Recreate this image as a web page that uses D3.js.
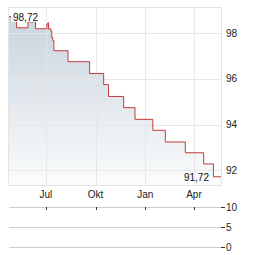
<!DOCTYPE html>
<html>
<head>
<meta charset="utf-8">
<script src="https://cdn.jsdelivr.net/npm/d3@7.9.0/dist/d3.min.js"></script>
<style>
  html, body { margin: 0; padding: 0; background: #fff; }
  svg { display: block; font-family: "Liberation Sans", Arial, sans-serif; }
</style>
</head>
<body>
<svg id="chart" width="264" height="255"></svg>
<script>
const dates = [
  "2024-04-23", "2024-04-27", "2024-05-01", "2024-05-06", "2024-05-08",
  "2024-05-27", "2024-05-29", "2024-06-09", "2024-06-12", "2024-07-01",
  "2024-07-03", "2024-07-05", "2024-07-06", "2024-07-10", "2024-07-12",
  "2024-07-14", "2024-07-16", "2024-08-11", "2024-09-20", "2024-10-16",
  "2024-10-25", "2024-11-22", "2024-12-13", "2025-01-15", "2025-02-07",
  "2025-03-16", "2025-04-19", "2025-05-07", "2025-05-21"
];
const prices = [
  98.72, 98.69, 98.58, 98.53, 98.23,
  98.25, 98.49, 98.53, 98.19, 98.19,
  98.40, 98.45, 98.19, 98.10, 97.80,
  97.67, 97.23, 96.75, 96.23, 95.75,
  95.23, 94.74, 94.23, 93.75, 93.24,
  92.77, 92.28, 91.72, 91.72
];
const monthTicks = ["2024-07-01", "2024-10-01", "2025-01-01", "2025-04-01"];
const monthLabels = ["Jul", "Okt", "Jan", "Apr"];
const priceTicks = [92, 94, 96, 98];
const volumeTicks = [0, 5, 10];

const parse = d3.utcParse("%Y-%m-%d");
const data = dates.map((d, i) => ({ date: parse(d), value: prices[i] }));

const svg = d3.select("#chart");
const pLeft = 8.5, pRight = 221, pTop = 7, pBottom = 185;

const x = d3.scaleUtc()
  .domain([parse("2024-04-23"), parse("2025-05-21")])
  .range([pLeft, pRight]);
const y = d3.scaleLinear().domain([91.36, 99.14]).range([pBottom, pTop]);
const yVol = d3.scaleLinear().domain([0, 10]).range([247, 207]);

// gradient for the area
const grad = svg.append("defs").append("linearGradient")
  .attr("id", "fill")
  .attr("gradientUnits", "userSpaceOnUse")
  .attr("x1", 0).attr("y1", pTop).attr("x2", 0).attr("y2", pBottom);
grad.append("stop").attr("offset", "0%").attr("stop-color", "#c6d2dc");
grad.append("stop").attr("offset", "100%").attr("stop-color", "#fbfcfc");

const area = d3.area()
  .curve(d3.curveStepAfter)
  .x(d => x(d.date))
  .y0(pBottom)
  .y1(d => y(d.value));
const line = d3.line()
  .curve(d3.curveStepAfter)
  .x(d => x(d.date))
  .y(d => y(d.value));

svg.append("path").datum(data).attr("d", area).attr("fill", "url(#fill)");

// grid (drawn over the fill, as in the original)
const grid = svg.append("g").attr("stroke", "#e4e6e8").attr("stroke-opacity", 0.9)
  .attr("shape-rendering", "crispEdges");
grid.selectAll(".v").data(monthTicks).enter().append("line")
  .attr("x1", d => Math.round(x(parse(d))) + 0.5)
  .attr("x2", d => Math.round(x(parse(d))) + 0.5)
  .attr("y1", pTop).attr("y2", pBottom);
grid.selectAll(".h").data(priceTicks).enter().append("line")
  .attr("x1", pLeft).attr("x2", pRight)
  .attr("y1", d => Math.round(y(d)) + 0.5)
  .attr("y2", d => Math.round(y(d)) + 0.5);

svg.append("path").datum(data).attr("d", line)
  .attr("fill", "none").attr("stroke", "#c43a3a").attr("stroke-width", 1);

// frame
svg.append("rect")
  .attr("x", 8.5).attr("y", 7.5)
  .attr("width", pRight - 8.5).attr("height", pBottom - 7.5)
  .attr("fill", "none").attr("stroke", "#e4e4e4").attr("shape-rendering", "crispEdges");

// price axis labels
svg.append("g").selectAll("text").data(priceTicks).enter().append("text")
  .attr("x", 226).attr("y", d => y(d)).attr("dy", "0.36em")
  .attr("font-size", 10).attr("fill", "#222")
  .text(d => d);

// month labels
svg.append("g").selectAll("text").data(monthTicks).enter().append("text")
  .attr("x", d => x(parse(d))).attr("y", 197.5)
  .attr("text-anchor", "middle")
  .attr("font-size", 10).attr("fill", "#222")
  .text((d, i) => monthLabels[i]);

// first / last value labels
const fmt = v => d3.format(".2f")(v).replace(".", ",");
const first = data[0], last = data[data.length - 1];
const firstLabel = svg.append("g");
firstLabel.append("rect")
  .attr("x", 11).attr("y", 11).attr("width", 28).attr("height", 11)
  .attr("fill", "#fff").attr("opacity", 0.85);
firstLabel.append("text")
  .attr("x", 13).attr("y", 21)
  .attr("font-size", 10).attr("fill", "#111")
  .text(fmt(first.value));
svg.append("text")
  .attr("x", 209).attr("y", 181)
  .attr("text-anchor", "end")
  .attr("font-size", 10).attr("fill", "#111")
  .text(fmt(last.value));

// volume panel
const vol = svg.append("g").attr("shape-rendering", "crispEdges");
vol.selectAll(".vl").data(volumeTicks).enter().append("line")
  .attr("x1", pLeft).attr("x2", pRight)
  .attr("y1", d => Math.round(yVol(d)) + 0.5)
  .attr("y2", d => Math.round(yVol(d)) + 0.5)
  .attr("stroke", "#cccccc");
vol.selectAll(".vt").data(volumeTicks).enter().append("line")
  .attr("x1", pRight).attr("x2", 225)
  .attr("y1", d => Math.round(yVol(d)) + 0.5)
  .attr("y2", d => Math.round(yVol(d)) + 0.5)
  .attr("stroke", "#333");
vol.selectAll(".mt").data(monthTicks).enter().append("line")
  .attr("x1", d => Math.round(x(parse(d))) + 0.5)
  .attr("x2", d => Math.round(x(parse(d))) + 0.5)
  .attr("y1", yVol(10)).attr("y2", yVol(10) + 3)
  .attr("stroke", "#333");
svg.append("g").selectAll("text").data(volumeTicks).enter().append("text")
  .attr("x", 226).attr("y", d => yVol(d)).attr("dy", "0.36em")
  .attr("font-size", 10).attr("fill", "#222")
  .text(d => d);
</script>
</body>
</html>
